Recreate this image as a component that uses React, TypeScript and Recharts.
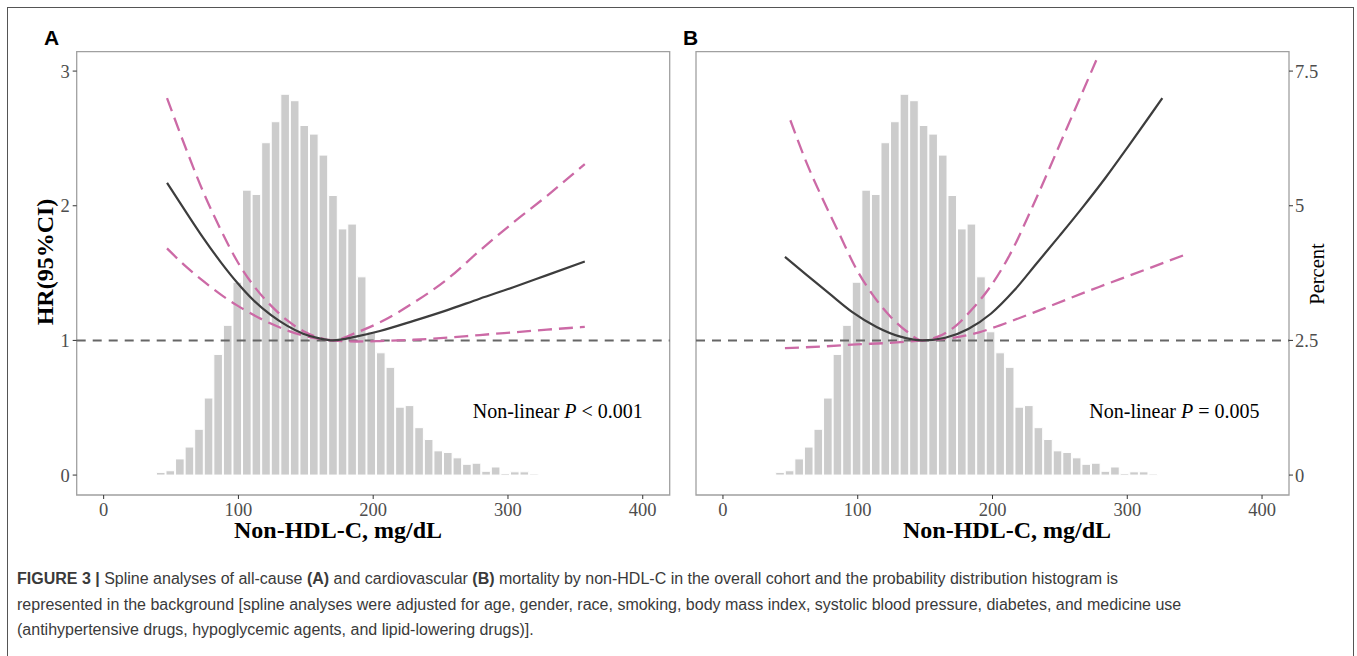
import React from "react";
import {
  ComposedChart,
  Bar,
  Line,
  XAxis,
  YAxis,
  ReferenceLine,
  ReferenceArea,
} from "recharts";

// histogram of non-HDL-C (percent per bin)
const binCenters = [
  42.7, 49.8, 56.9, 64.0, 71.1, 78.2, 85.3, 92.4, 99.5, 106.6, 113.7, 120.8, 127.9, 135.0,
  142.1, 149.2, 156.3, 163.4, 170.5, 177.6, 184.7, 191.8, 198.9, 206.0, 213.1, 220.2, 227.3,
  234.4, 241.5, 248.6, 255.7, 262.8, 269.9, 277.0, 284.1, 291.2, 298.3, 305.4, 312.5, 319.6,
];
const binPercent = [
  0.05, 0.08, 0.3, 0.52, 0.85, 1.43, 2.24, 2.78, 3.58, 5.29, 5.21, 6.17, 6.56, 7.07, 6.95, 6.49,
  6.33, 5.94, 5.19, 4.57, 4.66, 3.68, 2.66, 2.27, 2.0, 1.26, 1.29, 0.88, 0.66, 0.45, 0.42, 0.32,
  0.2, 0.22, 0.07, 0.15, 0.03, 0.06, 0.06, 0.02,
];

// panel A: all-cause mortality
const aX = [47, 62, 74, 87, 99, 111, 124, 136, 148, 160, 170, 188, 205, 230, 255, 279, 304, 329, 357];
const aFit = [2.17, 1.94, 1.76, 1.58, 1.43, 1.3, 1.19, 1.11, 1.05, 1.015, 1.0, 1.03, 1.07, 1.145, 1.225, 1.31, 1.395, 1.485, 1.586];
const aUpper = [2.8, 2.4, 2.1, 1.82, 1.59, 1.41, 1.26, 1.15, 1.07, 1.02, 1.0, 1.06, 1.134, 1.28, 1.455, 1.666, 1.876, 2.074, 2.31];
const aLower = [1.683, 1.54, 1.44, 1.34, 1.26, 1.19, 1.125, 1.075, 1.037, 1.012, 1.0, 0.992, 0.995, 1.005, 1.02, 1.04, 1.06, 1.08, 1.1];

// panel B: cardiovascular mortality
const bFitX = [46, 62, 79, 96, 114, 131, 148, 165, 182, 199, 216, 233, 250, 267, 284, 301, 318, 326];
const bFit = [1.62, 1.487, 1.347, 1.21, 1.1, 1.03, 1.0, 1.02, 1.085, 1.2, 1.37, 1.575, 1.78, 1.99, 2.21, 2.445, 2.685, 2.8];
const bUpperX = [50, 62, 74, 87, 99, 111, 124, 136, 148, 160, 173, 185, 197, 212, 230, 254, 277];
const bUpper = [2.635, 2.32, 2.05, 1.777, 1.53, 1.34, 1.18, 1.07, 1.0, 1.03, 1.11, 1.233, 1.38, 1.62, 2.0, 2.55, 3.08];
const bLowerX = [46, 74, 99, 124, 148, 173, 190, 205, 230, 254, 279, 304, 344];
const bLower = [0.943, 0.955, 0.97, 0.982, 1.0, 1.022, 1.06, 1.11, 1.205, 1.3, 1.397, 1.49, 1.641];

const xTicks = [0, 100, 200, 300, 400];
const hrTicks = [0, 1, 2, 3];
const pctTicks = [0, 2.5, 5, 7.5];

const histData = binCenters.map((x, i) => ({ x, pct: binPercent[i] }));
const toRows = (xs: number[], ys: number[]) => xs.map((x, i) => ({ x, hr: ys[i] }));

const HR_DOMAIN: [number, number] = [-0.148, 3.144];
const PCT_DOMAIN: [number, number] = [HR_DOMAIN[0] * 2.5, HR_DOMAIN[1] * 2.5];
const X_DOMAIN: [number, number] = [-20, 420];

const SERIF = "'Liberation Serif', 'Times New Roman', serif";
const SANS = "'Liberation Sans', Arial, Helvetica, sans-serif";
const PINK = "#cc6aa6";
const tickStyle = { fill: "#4d4d4d", fontSize: 18.5, fontFamily: SERIF };

type Margin = { top: number; right: number; bottom: number; left: number };
type Row = { x: number; hr: number };

// shared axes; ticks drawn only on the top layer
function axes(showHr: boolean, withTicks: boolean) {
  const tl = withTicks ? { stroke: "#333" } : false;
  const tk = withTicks ? tickStyle : false;
  return [
    <XAxis
      key="x"
      dataKey="x"
      type="number"
      domain={X_DOMAIN}
      allowDataOverflow
      ticks={xTicks}
      height={65}
      axisLine={false}
      tickSize={4}
      tickMargin={4}
      tickLine={tl}
      tick={tk}
    />,
    <YAxis
      key="hr"
      yAxisId="hr"
      domain={HR_DOMAIN}
      allowDataOverflow
      ticks={hrTicks}
      hide={!showHr}
      width={76.7}
      axisLine={false}
      tickSize={4}
      tickMargin={3}
      tickLine={tl}
      tick={tk}
    />,
    <YAxis
      key="pct"
      yAxisId="pct"
      orientation="right"
      domain={PCT_DOMAIN}
      allowDataOverflow
      ticks={pctTicks}
      hide={showHr}
      width={68}
      axisLine={false}
      tickSize={4}
      tickMargin={2}
      tickLine={tl}
      tick={tk}
    />,
  ];
}

function Panel({
  width,
  margin,
  fit,
  upper,
  lower,
  showHr,
}: {
  width: number;
  margin: Margin;
  fit: Row[];
  upper: Row[];
  lower: Row[];
  showHr: boolean;
}) {
  return (
    <div style={{ position: "relative", width, height: 560 }}>
      <div style={{ position: "absolute", left: 0, top: 0 }}>
        <ComposedChart width={width} height={560} data={histData} margin={margin}>
          {axes(showHr, false)}
          <Bar
            yAxisId="pct"
            dataKey="pct"
            fill="#cccccc"
            stroke="#ffffff"
            strokeWidth={1}
            barSize={9.57}
            isAnimationActive={false}
          />
        </ComposedChart>
      </div>
      <div style={{ position: "absolute", left: 0, top: 0 }}>
        <ComposedChart width={width} height={560} data={fit} margin={margin}>
          {axes(showHr, true)}
          <ReferenceLine yAxisId="hr" y={1} stroke="#666666" strokeWidth={2} strokeDasharray="9 7" />
          <Line
            yAxisId="hr"
            data={upper}
            dataKey="hr"
            type="monotone"
            stroke={PINK}
            strokeWidth={2.3}
            strokeDasharray="14 7"
            dot={false}
            isAnimationActive={false}
          />
          <Line
            yAxisId="hr"
            data={lower}
            dataKey="hr"
            type="monotone"
            stroke={PINK}
            strokeWidth={2.3}
            strokeDasharray="14 7"
            dot={false}
            isAnimationActive={false}
          />
          <Line
            yAxisId="hr"
            data={fit}
            dataKey="hr"
            type="monotone"
            stroke="#3d3d3d"
            strokeWidth={2.2}
            dot={false}
            isAnimationActive={false}
          />
          <ReferenceArea
            yAxisId="hr"
            x1={X_DOMAIN[0]}
            x2={X_DOMAIN[1]}
            y1={HR_DOMAIN[0]}
            y2={HR_DOMAIN[1]}
            fill="none"
            stroke="#a0a0a0"
            strokeWidth={1.3}
            ifOverflow="visible"
          />
        </ComposedChart>
      </div>
    </div>
  );
}

const abs = (left: number, top: number): React.CSSProperties => ({
  position: "absolute",
  left,
  top,
  whiteSpace: "nowrap",
  lineHeight: 1,
});

export default function App() {
  return (
    <div
      style={{
        position: "absolute",
        left: 0,
        top: 0,
        width: 1357,
        height: 656,
        overflow: "hidden",
        background: "#fff",
      }}
    >
      <div
        style={{
          position: "absolute",
          left: 7,
          top: 7,
          width: 1347,
          height: 700,
          border: "1.5px solid #555",
          boxSizing: "border-box",
        }}
      />
      <div style={{ position: "absolute", left: 0, top: 0 }}>
        <Panel
          width={690}
          margin={{ top: 51.7, right: 20.3, bottom: 0, left: 0 }}
          fit={toRows(aX, aFit)}
          upper={toRows(aX, aUpper)}
          lower={toRows(aX, aLower)}
          showHr
        />
      </div>
      <div style={{ position: "absolute", left: 680, top: 0 }}>
        <Panel
          width={677}
          margin={{ top: 51.7, right: 0, bottom: 0, left: 16 }}
          fit={toRows(bFitX, bFit)}
          upper={toRows(bUpperX, bUpper)}
          lower={toRows(bLowerX, bLower)}
          showHr={false}
        />
      </div>

      <div style={{ ...abs(44, 26.5), fontFamily: SANS, fontWeight: 700, fontSize: 21 }}>A</div>
      <div style={{ ...abs(683, 27), fontFamily: SANS, fontWeight: 700, fontSize: 21 }}>B</div>

      <div style={{ ...abs(472.7, 400.5), fontFamily: SERIF, fontSize: 20, color: "#000" }}>
        Non-linear <i>P</i> &lt; 0.001
      </div>
      <div style={{ ...abs(1089.3, 400.5), fontFamily: SERIF, fontSize: 20, color: "#000" }}>
        Non-linear <i>P</i> = 0.005
      </div>

      <div
        style={{
          ...abs(338, 531),
          transform: "translate(-50%, -50%)",
          fontFamily: SERIF,
          fontWeight: 700,
          fontSize: 24,
          lineHeight: 0.8,
        }}
      >
        Non-HDL-C, mg/dL
      </div>
      <div
        style={{
          ...abs(1007, 531),
          transform: "translate(-50%, -50%)",
          fontFamily: SERIF,
          fontWeight: 700,
          fontSize: 24,
          lineHeight: 0.8,
        }}
      >
        Non-HDL-C, mg/dL
      </div>
      <div
        style={{
          ...abs(45, 262),
          transform: "translate(-50%, -50%) rotate(-90deg)",
          fontFamily: SERIF,
          fontWeight: 700,
          fontSize: 24,
        }}
      >
        HR(95%CI)
      </div>
      <div
        style={{
          ...abs(1317, 274),
          transform: "translate(-50%, -50%) rotate(-90deg)",
          fontFamily: SERIF,
          fontSize: 20.5,
        }}
      >
        Percent
      </div>

      <div
        style={{
          position: "absolute",
          left: 17,
          top: 566,
          fontFamily: SANS,
          fontSize: 16,
          lineHeight: "25.7px",
          color: "#3a3a3a",
          whiteSpace: "nowrap",
        }}
      >
        <b>FIGURE 3 |</b> Spline analyses of all-cause <b>(A)</b> and cardiovascular <b>(B)</b> mortality
        by non-HDL-C in the overall cohort and the probability distribution histogram is
        <br />
        represented in the background [spline analyses were adjusted for age, gender, race, smoking,
        body mass index, systolic blood pressure, diabetes, and medicine use
        <br />
        (antihypertensive drugs, hypoglycemic agents, and lipid-lowering drugs)].
      </div>
    </div>
  );
}
